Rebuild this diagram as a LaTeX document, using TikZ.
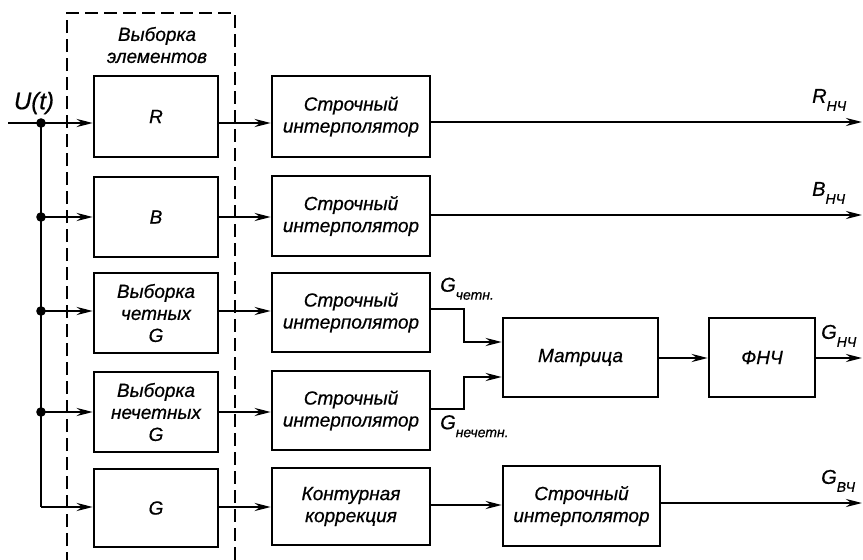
\documentclass[tikz,border=0pt]{standalone}
\usepackage{fontspec}
\setmainfont{Liberation Sans}[ItalicFeatures={FakeBold=0.6}]
\usetikzlibrary{arrows.meta}
\newcommand{\lowsub}[1]{\raisebox{-0.4em}{\fontsize{14}{14}\selectfont #1}}
\begin{document}
\begin{tikzpicture}[x=1pt,y=-1pt,
  every node/.style={font=\fontsize{19}{22}\selectfont\itshape},
  blk/.style={draw,line width=2.5pt,align=center,inner sep=0pt},
  conn/.style={line width=2.4pt},
  arr/.style={conn,-{Stealth[length=16pt,width=8pt]}},
  lbl/.style={inner sep=0pt,font=\fontsize{20}{22}\selectfont\itshape}]
\useasboundingbox (0,0) rectangle (863,560);
% dashed frame
\draw[line width=1.8pt,dash pattern=on 13pt off 6pt] (67,565) -- (67,13) -- (235,13) -- (235,565);
\node[align=center] (title) at (157,45) {Выборка\\элементов};
% left column
\node[blk,minimum width=124pt,minimum height=81pt] (s1) at (156,116.5) {R};
\node[blk,minimum width=124pt,minimum height=80pt] (s2) at (156,217) {B};
\node[blk,minimum width=124pt,minimum height=80pt] (s3) at (156,313) {Выборка\\четных\\G};
\node[blk,minimum width=124pt,minimum height=80pt] (s4) at (156,412) {Выборка\\нечетных\\G};
\node[blk,minimum width=124pt,minimum height=78pt] (s5) at (156,508) {G};
% interpolators
\node[blk,minimum width=158pt,minimum height=81pt] (i1) at (351,116.5) {Строчный\\интерполятор};
\node[blk,minimum width=158pt,minimum height=80pt] (i2) at (351,216) {Строчный\\интерполятор};
\node[blk,minimum width=158pt,minimum height=79pt] (i3) at (351,312.5) {Строчный\\интерполятор};
\node[blk,minimum width=158pt,minimum height=79pt] (i4) at (351,410.5) {Строчный\\интерполятор};
\node[blk,minimum width=158pt,minimum height=77pt] (i5) at (351,506.5) {Контурная\\коррекция};
% right part
\node[blk,minimum width=155pt,minimum height=79pt] (m) at (580.5,357.5) {Матрица};
\node[blk,minimum width=106pt,minimum height=79pt] (f) at (762,357.5) {ФНЧ};
\node[blk,minimum width=157pt,minimum height=80pt] (b) at (581.5,506) {Строчный\\интерполятор};
% input
\coordinate (in) at (8,123);
\coordinate (j1) at (41,123);
\coordinate (j2) at (41,217);
\coordinate (j3) at (41,311);
\coordinate (j4) at (41,412);
\coordinate (j5) at (41,507);
\node[lbl,font=\fontsize{24}{24}\selectfont\itshape] (u) at (34,103) {U(t)};
\draw[conn] (in) -- (j1) -- (j5);
\foreach \j in {j1,j2,j3,j4} \fill (\j) circle (4.8pt);
\draw[arr] (j1) -- (j1 -| s1.west);
\draw[arr] (j2) -- (j2 -| s2.west);
\draw[arr] (j3) -- (j3 -| s3.west);
\draw[arr] (j4) -- (j4 -| s4.west);
\draw[arr] (j5) -- (j5 -| s5.west);
% left -> interpolators
\draw[arr] (s1.east |- j1) -- (i1.west |- j1);
\draw[arr] (s2.east |- j2) -- (i2.west |- j2);
\draw[arr] (s3.east |- j3) -- (i3.west |- j3);
\draw[arr] (s4.east |- j4) -- (i4.west |- j4);
\draw[arr] (s5.east |- j5) -- (i5.west |- j5);
% outputs
\coordinate (oR) at (862,122);
\coordinate (oB) at (862,215);
\coordinate (oG) at (862,358);
\coordinate (oV) at (862,503);
\coordinate (r5) at (0,505);
\draw[arr] (i1.east |- oR) -- (oR);
\draw[arr] (i2.east |- oB) -- (oB);
\node[lbl,anchor=south west] (lR) at (812,111) {R\lowsub{НЧ}};
\node[lbl,anchor=south west] (lB) at (812,204) {B\lowsub{НЧ}};
% to matrix
\coordinate (c1) at (464,309);
\coordinate (c2) at (464,342);
\coordinate (c3) at (464,409);
\coordinate (c4) at (464,377);
\draw[arr] (i3.east |- c1) -- (c1) -- (c2) -- (m.west |- c2);
\draw[arr] (i4.east |- c3) -- (c3) -- (c4) -- (m.west |- c4);
\node[lbl,anchor=south west] (lg1) at (440,300) {G\lowsub{четн.}};
\node[lbl,anchor=north west] (lg2) at (440,415) {G\lowsub{нечетн.}};
\draw[arr] (m.east |- oG) -- (f.west |- oG);
\draw[arr] (f.east |- oG) -- (oG);
\node[lbl,anchor=south west] (lG) at (821,347) {G\lowsub{НЧ}};
% bottom row
\draw[arr] (i5.east |- r5) -- (b.west |- r5);
\draw[arr] (b.east |- oV) -- (oV);
\node[lbl,anchor=south west] (lV) at (821,492) {G\lowsub{ВЧ}};
\end{tikzpicture}
\end{document}
